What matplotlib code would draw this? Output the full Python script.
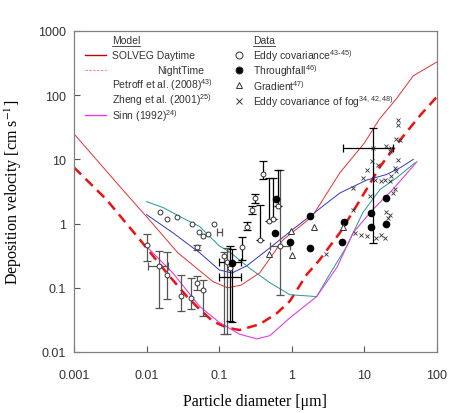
import numpy as np
import matplotlib.pyplot as plt
from matplotlib.lines import Line2D

plt.rcParams['font.family'] = ['Liberation Sans', 'DejaVu Sans']
plt.rcParams['mathtext.fontset'] = 'custom'
plt.rcParams['mathtext.rm'] = 'Liberation Sans'

# Model curves
day_x = [0.001, 0.0054, 0.01, 0.027, 0.082, 0.13, 0.2, 0.36, 0.76, 1.9, 4.6, 10, 16, 28, 47, 100]
day_y = [25, 2.8, 1.28, 0.35, 0.125, 0.10, 0.11, 0.17, 0.56, 1.28, 6.2, 18, 42, 90, 200, 330]

night_x = [0.001, 0.0028, 0.0081, 0.019, 0.036, 0.054, 0.082, 0.128, 0.19, 0.36, 0.62, 0.94,
           1.6, 2.4, 4.6, 8.8, 16.4, 31, 60, 100]
night_y = [7.5, 2.37, 0.56, 0.17, 0.073, 0.046, 0.03, 0.024, 0.022, 0.027, 0.04, 0.062,
           0.16, 0.27, 0.72, 2.37, 7.7, 20, 50, 95]

petroff_x = [0.01, 0.023, 0.054, 0.1, 0.15, 0.24, 0.5, 1.03, 1.77, 4.6, 10.9, 20, 31, 47]
petroff_y = [1.38, 0.72, 0.35, 0.19, 0.17, 0.22, 0.42, 0.81, 1.3, 3.0, 4.8, 5.8, 7.4, 10]

zhang_x = [0.01, 0.017, 0.029, 0.054, 0.1, 0.14, 0.265, 0.5, 0.94, 2.2, 3.4, 5.7, 9.5, 16.4, 28, 50]
zhang_y = [2.2, 1.77, 1.28, 0.9, 0.45, 0.36, 0.2, 0.12, 0.078, 0.073, 0.17, 0.44, 1.48, 3.4, 5.2, 8.9]

sinn_x = [0.01, 0.023, 0.054, 0.1, 0.19, 0.33, 0.5, 0.94, 2.2, 4.2, 7.0, 13, 24.6, 53]
sinn_y = [0.44, 0.17, 0.051, 0.029, 0.019, 0.016, 0.018, 0.034, 0.073, 0.21, 0.72, 1.65, 3.4, 9.2]

# Eddy covariance (open circles)
ec_x = [0.010, 0.0153, 0.0193, 0.026, 0.042, 0.0525, 0.06, 0.07, 0.085, 0.049, 0.015, 0.0193,
        0.030, 0.041, 0.049, 0.06, 0.117, 0.13, 0.14, 0.207, 0.243, 0.28, 0.315, 0.37, 0.405,
        0.49, 0.55, 0.65, 0.69]
ec_y = [0.47, 1.5, 1.18, 1.27, 1.0, 0.73, 0.63, 0.7, 1.0, 0.43, 0.22, 0.16,
        0.074, 0.07, 0.12, 0.094, 0.31, 0.25, 0.2, 0.43, 0.9, 1.6, 2.5, 0.56, 6.0,
        1.1, 1.2, 1.86, 0.44]

# Throughfall (filled circles)
tf_x = [0.149, 0.58, 0.6, 0.94, 1.8, 1.77, 4.9, 5.2, 12.3, 12.3, 19.9, 19.9]
tf_y = [0.24, 0.72, 2.45, 0.52, 1.3, 0.42, 0.51, 1.05, 1.47, 0.9, 2.5, 1.0]

# Gradient (triangles)
gr_x = [0.49, 0.99, 1.0, 2.0, 5.1]
gr_y = [0.34, 0.78, 0.33, 0.9, 0.9]

# Eddy covariance of fog (crosses)
fog_x = [29.3, 29.3, 31, 27.5, 13, 19.9, 22.3, 23.5, 29.3, 12.6, 15.5, 10.7, 26, 9.6, 14, 17,
         19.2, 22.3, 23.6, 7.0, 11.9, 26, 24.6, 7.0, 22.3, 21, 20, 7.4, 9.1, 10.7, 14.6, 17,
         19.2, 3.0, 27.6]
fog_y = [41.8, 34.8, 20.3, 20.8, 15.1, 16, 13.4, 15, 9.9, 9.4, 8.3, 6.9, 7.4, 5.2, 4.85, 4.56,
         4.85, 4.56, 5.5, 3.6, 2.66, 3.4, 3.0, 1.65, 1.38, 1.23, 1.5, 0.72, 0.67, 0.63, 0.6, 0.67,
         0.6, 0.34, 6.5]

# vertical error bars: x, y, lower, upper
vbar_gray_x = [0.01, 0.015, 0.0193, 0.030, 0.041, 0.049, 0.049, 0.06, 0.117, 0.13, 0.69]
vbar_gray_y = [0.47, 0.22, 0.16, 0.074, 0.07, 0.12, 0.43, 0.094, 0.31, 0.25, 0.44]
vbar_gray_lo = [0.26, 0.049, 0.067, 0.043, 0.046, 0.094, 0.39, 0.036, 0.019, 0.019, 0.078]
vbar_gray_hi = [0.70, 0.37, 0.36, 0.16, 0.144, 0.15, 0.47, 0.13, 0.36, 0.42, 6.9]

vbar_blk_x = [0.14, 0.149, 0.207, 0.243, 0.28, 0.315, 0.37, 0.405, 0.49, 0.55, 0.65, 13]
vbar_blk_y = [0.2, 0.24, 0.43, 0.9, 1.6, 2.5, 0.56, 6.0, 1.1, 1.2, 1.86, 15]
vbar_blk_lo = [0.03, 0.029, 0.275, 0.8, 1.4, 2.1, 0.56, 5.0, 1.1, 1.2, 1.86, 0.5]
vbar_blk_hi = [0.44, 0.40, 0.62, 1.05, 1.85, 2.9, 1.98, 9.3, 5.2, 5.2, 6.8, 31]

# horizontal error bars: x, y, left, right
hbar_gray_x = [0.015, 0.69, 0.1]
hbar_gray_y = [0.22, 0.44, 0.73]
hbar_gray_lo = [0.0103, 0.5, 0.093]
hbar_gray_hi = [0.0199, 0.94, 0.108]

hbar_blk_x = [0.149, 0.149, 13]
hbar_blk_y = [0.25, 0.145, 15]
hbar_blk_lo = [0.1, 0.1, 5.1]
hbar_blk_hi = [0.2, 0.2, 25]

xticks = [0.001, 0.01, 0.1, 1, 10, 100]
xtick_labels = ['0.001', '0.01', '0.1', '1', '10', '100']
yticks = [0.01, 0.1, 1, 10, 100, 1000]
ytick_labels = ['0.01', '0.1', '1', '10', '100', '1000']

W, H = 460, 414
fig = plt.figure(figsize=(W / 100, H / 100), dpi=100)
ax = fig.add_axes([74 / W, 1 - 353 / H, (437 - 74) / W, (353 - 32) / H])


def fpos(px, py):
    return px / W, 1 - py / H


# model curves
ax.plot(day_x, day_y, color='#e83030', lw=0.7)
ax.plot(night_x, night_y, color='#ee1111', lw=1.8, dashes=(4, 2.5))
ax.plot(petroff_x, petroff_y, color='#3434c8', lw=0.7)
ax.plot(zhang_x, zhang_y, color='#1f9a90', lw=0.7)
ax.plot(sinn_x, sinn_y, color='#e040e0', lw=0.8)


def vbars(x, y, lo, hi, color):
    x, y, lo, hi = map(np.asarray, (x, y, lo, hi))
    ax.errorbar(x, y, yerr=[y - lo, hi - y], fmt='none', ecolor=color,
                elinewidth=0.9, capsize=3, capthick=0.9)


def hbars(x, y, lo, hi, color):
    x, y, lo, hi = map(np.asarray, (x, y, lo, hi))
    ax.errorbar(x, y, xerr=[x - lo, hi - x], fmt='none', ecolor=color,
                elinewidth=0.9, capsize=3, capthick=0.9)


vbars(vbar_gray_x, vbar_gray_y, vbar_gray_lo, vbar_gray_hi, '#555555')
vbars(vbar_blk_x, vbar_blk_y, vbar_blk_lo, vbar_blk_hi, 'black')
hbars(hbar_gray_x, hbar_gray_y, hbar_gray_lo, hbar_gray_hi, '#555555')
hbars(hbar_blk_x, hbar_blk_y, hbar_blk_lo, hbar_blk_hi, 'black')

# data points
ax.plot(ec_x, ec_y, 'o', ms=3.5, mfc='white', mec='#333333', mew=0.7)
ax.plot(tf_x, tf_y, 'o', ms=4.5, color='black')
ax.plot(gr_x, gr_y, '^', ms=4.5, mfc='white', mec='#333333', mew=0.7)
ax.plot(fog_x, fog_y, 'x', ms=3.2, color='#333333', mew=0.6)

ax.set_xscale('log')
ax.set_yscale('log')
ax.set_xlim(0.001, 100)
ax.set_ylim(0.01, 1000)
ax.set_xticks(xticks)
ax.set_xticklabels(xtick_labels)
ax.set_yticks(yticks)
ax.set_yticklabels(ytick_labels)
ax.minorticks_off()
ax.tick_params(direction='in', length=4, width=0.8, colors='#555555',
               labelcolor='#333333', labelsize=9, pad=6)
ax.tick_params(axis='x', pad=12)
for s in ax.spines.values():
    s.set_color('#808080')
    s.set_linewidth(0.9)

ax.set_xlabel('Particle diameter [\u03bcm]', family='Liberation Serif', fontsize=11.5, labelpad=9)
ax.set_ylabel('Deposition velocity [cm s$^{-1}$]', family='Liberation Serif', fontsize=11.5,
              math_fontfamily='stix', labelpad=10)

# legend, drawn by hand like the original
tkw = dict(fontsize=7.5, color='#333333', va='center', ha='left')


def underline(px, py, text):
    t = fig.text(*fpos(px, py), text, **tkw)
    fig.canvas.draw()
    bb = t.get_window_extent()
    fig.add_artist(Line2D([bb.x0 / W, bb.x1 / W], [(bb.y0 - 1) / H] * 2,
                          color='#333333', lw=0.6))


underline(112, 41, 'Model')
fig.add_artist(Line2D([fpos(85, 0)[0], fpos(106, 0)[0]], [fpos(0, 56)[1]] * 2,
                      color='#c00000', lw=1.0))
fig.text(*fpos(112, 56), 'SOLVEG Daytime', **tkw)
fig.add_artist(Line2D([fpos(85, 0)[0], fpos(106, 0)[0]], [fpos(0, 71)[1]] * 2,
                      color='#f08080', lw=0.8, dashes=(2, 1.5)))
fig.text(*fpos(157, 71), 'NightTime', **tkw)
fig.text(*fpos(112, 85), 'Petroff et al. (2008)$^{43)}$', **tkw)
fig.text(*fpos(112, 100), 'Zheng et al. (2001)$^{25)}$', **tkw)
fig.add_artist(Line2D([fpos(85, 0)[0], fpos(106, 0)[0]], [fpos(0, 116)[1]] * 2,
                      color='#e040e0', lw=1.0))
fig.text(*fpos(112, 116), 'Sinn (1992)$^{24)}$', **tkw)

underline(253, 41, 'Data')
mk = [('o', 'white', 56, 'Eddy covariance$^{43\u201045)}$'),
      ('o', 'black', 71, 'Throughfall$^{46)}$'),
      ('^', 'white', 86, 'Gradient$^{47)}$'),
      ('x', 'none', 102, 'Eddy covariance of fog$^{34,42,48)}$')]
for m, fc, py, label in mk:
    fig.add_artist(Line2D([fpos(239, 0)[0]], [fpos(0, py)[1]], marker=m, ms=5,
                          mfc=fc, mec='#333333', mew=0.7, color='#333333', ls='none'))
    fig.text(*fpos(253, py), label, **tkw)

fig.savefig('out.png', dpi=100)
